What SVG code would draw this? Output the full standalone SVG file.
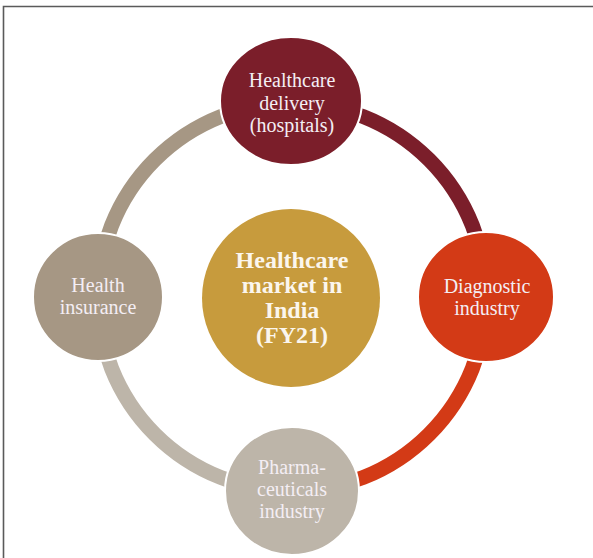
<svg xmlns="http://www.w3.org/2000/svg" width="593" height="558" viewBox="0 0 593 558">
  <style>
    .ring { fill: none; stroke-width: 15; }
    .node { stroke: #ffffff; stroke-width: 2; }
    .lbl { font-family: "Liberation Serif", "Times New Roman", serif; font-size: 20px; fill: #f4eef4; text-anchor: middle; }
    .hub { font-family: "Liberation Serif", "Times New Roman", serif; font-size: 24px; font-weight: bold; fill: #fbf6ee; text-anchor: middle; }
  </style>
  <rect width="593" height="558" fill="#ffffff"/>
  <!-- frame -->
  <path d="M3.5 558 V6.5 H593" fill="none" stroke="#5a5a5a" stroke-width="1.6"/>

  <!-- ring segments between the outer nodes -->
  <g id="connectors">
    <path class="ring" stroke="#7b1e2a" d="M292 103 A194 194 0 0 1 486 297"/>
    <path class="ring" stroke="#d33a16" d="M486 297 A194 194 0 0 1 292 491"/>
    <path class="ring" stroke="#bdb5a9" d="M292 491 A194 194 0 0 1 98 297"/>
    <path class="ring" stroke="#a69784" d="M98 297 A194 194 0 0 1 292 103"/>
  </g>

  <g id="hub">
    <circle cx="291" cy="298" r="89" fill="#c79b3d"/>
    <text class="hub" x="292" y="268">Healthcare</text>
    <text class="hub" x="292" y="293">market in</text>
    <text class="hub" x="292" y="318">India</text>
    <text class="hub" x="292" y="343">(FY21)</text>
  </g>

  <g id="hospitals">
    <ellipse class="node" cx="291" cy="101" rx="71" ry="64" fill="#7b1e2a"/>
    <text class="lbl" x="292" y="87">Healthcare</text>
    <text class="lbl" x="292" y="110">delivery</text>
    <text class="lbl" x="292" y="132">(hospitals)</text>
  </g>

  <g id="diagnostic">
    <ellipse class="node" cx="486" cy="297" rx="68" ry="65" fill="#d33a16"/>
    <text class="lbl" x="487" y="293">Diagnostic</text>
    <text class="lbl" x="487" y="315">industry</text>
  </g>

  <g id="insurance">
    <ellipse class="node" cx="98" cy="297" rx="65" ry="64" fill="#a69784"/>
    <text class="lbl" x="98" y="292">Health</text>
    <text class="lbl" x="98" y="314">insurance</text>
  </g>

  <g id="pharma">
    <ellipse class="node" cx="292" cy="491" rx="67" ry="64" fill="#bdb5a9"/>
    <text class="lbl" x="292" y="474">Pharma-</text>
    <text class="lbl" x="292" y="496">ceuticals</text>
    <text class="lbl" x="292" y="518">industry</text>
  </g>
</svg>
